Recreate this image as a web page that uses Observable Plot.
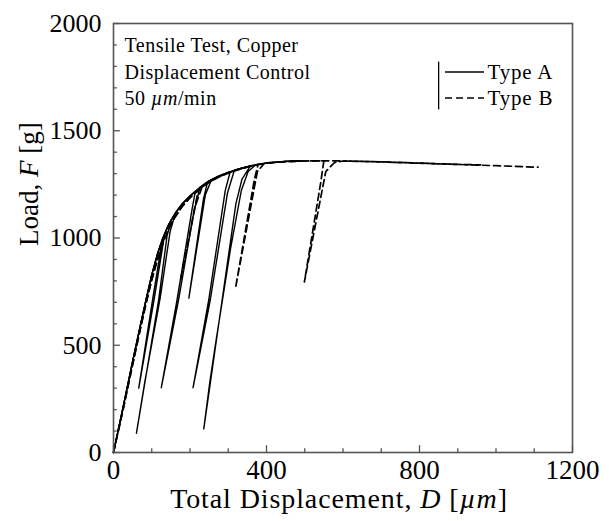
<!DOCTYPE html>
<html>
<head>
<meta charset="utf-8">
<script src="https://cdn.jsdelivr.net/npm/d3@7"></script>
<script src="https://cdn.jsdelivr.net/npm/@observablehq/plot@0.6"></script>
<style>
  html, body { margin: 0; padding: 0; background: white; }
  #chart { width: 610px; height: 521px; }
  #chart svg, #chart svg text { font-family: "Liberation Serif", "Times New Roman", Times, serif !important; }
</style>
</head>
<body>
<div id="chart"></div>
<script>
// ---- Data ----
// Monotonic loading envelope, Type A: [displacement µm, load g]
const envA = [[0,0],[25,210],[50,425],[70,590],[85,712],[100,828],[115,925],[130,1005],[145,1065],[160,1112],[180,1160],[200,1196],[225,1234],[250,1266],[275,1288],[300,1306],[330,1323],[360,1337],[400,1349],[450,1357],[490,1360]];
// Unload / reload loops, Type A (first point = start of unloading, last = rejoin)
const loopA1 = [[152,1088],[140,1010],[118,711],[60,90],[82,330],[122,720],[148,1030],[162,1116]];
const loopA2 = [[128,995],[102,711],[66,300],[106,711],[134,1020]];
const loopA3 = [[214,1218],[205,1130],[166,711],[125,302],[170,711],[210,1120],[226,1236]];
const loopA4 = [[246,1262],[235,1180],[197,720],[240,1200],[256,1271]];
const loopA5 = [[305,1309],[292,1220],[249,711],[208,302],[253,711],[298,1210],[316,1316]];
const loopA6 = [[358,1336],[336,1275],[320,1160],[284,711],[236,110],[252,330],[268,520],[306,950],[334,1220],[352,1310],[372,1341]];
// Envelope, Type B
const envB = [[0,0],[25,200],[50,410],[70,575],[85,695],[100,805],[115,900],[130,980],[145,1045],[160,1095],[180,1148],[200,1188],[225,1228],[250,1260],[275,1284],[300,1303],[330,1321],[360,1335],[400,1350],[450,1356],[500,1359],[560,1360],[600,1359],[700,1355],[800,1349],[900,1343],[1000,1337],[1110,1330]];
const envB2End = [[960,1341]];
// Unload / reload loops, Type B
const loopB1 = [[222,1224],[212,1140],[175,800],[214,1150],[232,1240]];
const loopB2 = [[378,1343],[368,1270],[319,767],[376,1309],[394,1348]];
const loopB3 = [[550,1360],[541,1250],[499,795],[555,1310],[578,1352]];

// Axis ticks and labels
const xMajor = [0, 400, 800, 1200];
const xMinor = [100, 200, 300, 500, 600, 700, 900, 1000, 1100];
const yMajor = [0, 500, 1000, 1500, 2000];
const yMinor = [100,200,300,400,600,700,800,900,1100,1200,1300,1400,1600,1700,1800,1900];
const noteLines = ["Tensile Test, Copper", "Displacement Control", "50 µm/min"];
// legend placement in data units
const legendRows = [{name: "Type A", y: 1774}, {name: "Type B", y: 1653}];

// ---- Build the paths ----
function buildPath(id, env, loops, endPts) {
  let pts = [];
  let cursor = -1;
  for (const loop of loops) {
    const start = loop[0][0];
    pts.push(...env.filter(p => p[0] > cursor && p[0] < start));
    pts.push(...loop);
    cursor = loop[loop.length - 1][0];
  }
  pts.push(...env.filter(p => p[0] > cursor));
  if (endPts) pts.push(...endPts);
  return pts.map(([x, y]) => ({id, x, y}));
}
const typeA = [
  ...buildPath("A1", envA, [loopA1, loopA5]),
  ...buildPath("A2", envA, [loopA2, loopA4, loopA6]),
  ...buildPath("A3", envA, [loopA3])
];
const typeB = [
  ...buildPath("B1", envB, [loopB2, loopB3]),
  ...buildPath("B2", envB.filter(p => p[0] <= 900), [loopB1], envB2End)
];

const font = "'Liberation Serif', 'Times New Roman', serif";
const axisColor = "#555";

const plot = Plot.plot({
  width: 610,
  height: 521,
  marginLeft: 113,
  marginRight: 38,
  marginTop: 23,
  marginBottom: 69,
  x: {domain: [0, 1200]},
  y: {domain: [0, 2000]},
  style: {fontFamily: font, color: "black", background: "white", overflow: "visible"},
  marks: [
    Plot.lineY(typeA, {x: "x", y: "y", z: "id", stroke: "black", strokeWidth: 1.4, curve: "linear"}),
    Plot.lineY(typeB, {x: "x", y: "y", z: "id", stroke: "black", strokeWidth: 1.7, strokeDasharray: "7,4", curve: "linear"}),
    // inward ticks
    Plot.ruleX(xMajor, {x: d => d, y1: 0, y2: 32, stroke: axisColor, strokeWidth: 1.3}),
    Plot.ruleX(xMinor, {x: d => d, y1: 0, y2: 18, stroke: axisColor, strokeWidth: 1.3}),
    Plot.ruleY(yMajor, {y: d => d, x1: 0, x2: 18, stroke: axisColor, strokeWidth: 1.3}),
    Plot.ruleY(yMinor, {y: d => d, x1: 0, x2: 10, stroke: axisColor, strokeWidth: 1.3}),
    Plot.frame({stroke: axisColor, strokeWidth: 1.6}),
    Plot.axisX({ticks: xMajor, tickSize: 0, tickPadding: 7, fontSize: 27, label: null, tickFormat: d => String(d)}),
    Plot.axisY({ticks: yMajor, tickSize: 0, tickPadding: 12, fontSize: 26, label: null, tickFormat: d => String(d)}),
    // axis titles
    Plot.text(["Total Displacement, D [µm]"], {frameAnchor: "bottom", dy: 55, dx: -4, fontSize: 28, className: "xtitle"}),
    Plot.text(["Load, F [g]"], {frameAnchor: "left", dx: -84, dy: 8, rotate: -90, fontSize: 27, className: "ytitle"}),
    // notes
    Plot.text([noteLines[0]], {frameAnchor: "top-left", dx: 11, dy: 22, textAnchor: "start", lineAnchor: "middle", fontSize: 20, className: "note"}),
    Plot.text([noteLines[1]], {frameAnchor: "top-left", dx: 11, dy: 49, textAnchor: "start", lineAnchor: "middle", fontSize: 20, className: "note"}),
    Plot.text([noteLines[2]], {frameAnchor: "top-left", dx: 11, dy: 75, textAnchor: "start", lineAnchor: "middle", fontSize: 20, className: "rate"}),
    // legend
    Plot.ruleX([850], {x: d => d, y1: 1597, y2: 1820, stroke: "black", strokeWidth: 1.3}),
    Plot.ruleY([legendRows[0]], {y: "y", x1: 868, x2: 970, stroke: "black", strokeWidth: 1.6}),
    Plot.ruleY([legendRows[1]], {y: "y", x1: 868, x2: 970, stroke: "black", strokeWidth: 1.6, strokeDasharray: "7,4"}),
    Plot.text(legendRows, {x: 978, y: "y", text: "name", textAnchor: "start", fontSize: 21, className: "legend"})
  ]
});

// Italic parts of the mixed-style labels
function styleText(cls, parts) {
  const t = d3.select(plot).select(`g.${cls} text`);
  if (t.empty()) return;
  t.text(null);
  for (const [s, it] of parts) {
    const ts = t.append("tspan").text(s);
    if (it) ts.attr("font-style", "italic");
  }
}
document.getElementById("chart").appendChild(plot);
styleText("xtitle", [["Total Displacement, ", false], ["D", true], [" [", false], ["µm", true], ["]", false]]);
styleText("ytitle", [["Load, ", false], ["F", true], [" [g]", false]]);
styleText("rate", [["50 ", false], ["µm", true], ["/min", false]]);
d3.select(plot).selectAll("g.xtitle text").style("letter-spacing", "0.9px");
d3.select(plot).selectAll("g.note text, g.rate text").style("letter-spacing", "0.5px");
d3.select(plot).selectAll("g.legend text").style("letter-spacing", "0.8px");
</script>
</body>
</html>
